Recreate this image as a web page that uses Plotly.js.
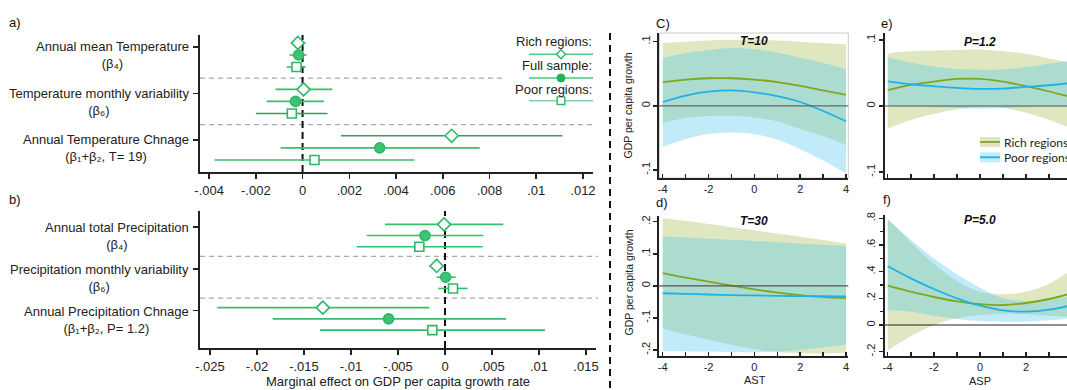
<!DOCTYPE html>
<html><head><meta charset="utf-8">
<script src="https://cdn.plot.ly/plotly-3.0.1.min.js"></script>
<style>html,body{margin:0;padding:0;overflow:hidden;background:#fff;width:1067px;height:390px}</style>
</head><body><div id="chart" style="width:1080px;height:390px"></div>
<script>
// ---------------- Panel a: temperature marginal effects ----------------
const aLabels = ['Annual mean Temperature<br>(β₄)', 'Temperature monthly variability<br>(β₆)', 'Annual Temperature Chnage<br>(β₁+β₂, T= 19)'];
const aRich   = [-0.0002, 0.00004, 0.00638];
const aRichLo = [-0.0005, -0.00116, 0.00164];
const aRichHi = [0.00013, 0.00127, 0.01112];
const aFull   = [-0.00017, -0.0003, 0.0033];
const aFullLo = [-0.00056, -0.00154, -0.00094];
const aFullHi = [0.00017, 0.00091, 0.00758];
const aPoor   = [-0.00026, -0.00046, 0.00051];
const aPoorLo = [-0.00068, -0.002, -0.00377];
const aPoorHi = [0.00013, 0.00107, 0.00478];
const aTickVals = [-0.004, -0.002, 0, 0.002, 0.004, 0.006, 0.008, 0.01, 0.012];
const aTickText = ['-.004', '-.002', '0', '.002', '.004', '.006', '.008', '.01', '.012'];

// ---------------- Panel b: precipitation marginal effects ----------------
const bLabels = ['Annual total Precipitation<br>(β₄)', 'Precipitation monthly variability<br>(β₆)', 'Annual Precipitation Chnage<br>(β₁+β₂, P= 1.2)'];
const bRich   = [-0.0001, -0.00089, -0.013];
const bRichLo = [-0.00638, -0.00167, -0.02422];
const bRichHi = [0.0062, -0.0001, -0.00167];
const bFull   = [-0.00213, 0.00007, -0.006];
const bFullLo = [-0.00833, -0.00089, -0.01833];
const bFullHi = [0.00408, 0.00113, 0.0065];
const bPoor   = [-0.00273, 0.00085, -0.00135];
const bPoorLo = [-0.0094, -0.00071, -0.0133];
const bPoorHi = [0.004, 0.0024, 0.01064];
const bTickVals = [-0.025, -0.02, -0.015, -0.01, -0.005, 0, 0.005, 0.01, 0.015];
const bTickText = ['-.025', '-.02', '-.015', '-.01', '-.005', '0', '.005', '.01', '.015'];

// ---------------- Right panels: curves over AST / ASP ----------------
const xs = [-4, -3, -2, -1, 0, 1, 2, 3, 4];
const xTickText = ['-4', '', '-2', '', '0', '', '2', '', '4'];
// C) T=10
const cRich   = [0.037, 0.041, 0.043, 0.043, 0.041, 0.037, 0.031, 0.024, 0.017];
const cRichLo = [-0.026, -0.019, -0.016, -0.0155, -0.018, -0.024, -0.036, -0.047, -0.061];
const cRichHi = [0.098, 0.100, 0.102, 0.103, 0.103, 0.102, 0.100, 0.098, 0.096];
const cPoor   = [0.006, 0.016, 0.022, 0.024, 0.021, 0.015, 0.006, -0.008, -0.024];
const cPoorLo = [-0.064, -0.052, -0.044, -0.0415, -0.044, -0.053, -0.0675, -0.085, -0.105];
const cPoorHi = [0.075, 0.082, 0.0866, 0.090, 0.088, 0.083, 0.075, 0.067, 0.057];
// d) T=30
const dRich   = [0.040, 0.026, 0.013, 0.001, -0.011, -0.021, -0.029, -0.035, -0.038];
const dRichLo = [-0.133, -0.152, -0.168, -0.184, -0.197, -0.206, -0.21, -0.211, -0.208];
const dRichHi = [0.211, 0.203, 0.193, 0.183, 0.173, 0.163, 0.153, 0.143, 0.132];
const dPoor   = [-0.023, -0.025, -0.027, -0.029, -0.030, -0.031, -0.032, -0.032, -0.033];
const dPoorLo = [-0.203, -0.204, -0.205, -0.206, -0.207, -0.205, -0.2, -0.192, -0.183];
const dPoorHi = [0.154, 0.151, 0.147, 0.144, 0.140, 0.136, 0.132, 0.128, 0.125];
// e) P=1.2
const eRich   = [0.024, 0.032, 0.037, 0.041, 0.041, 0.037, 0.030, 0.022, 0.013];
const eRichLo = [-0.034, -0.021, -0.012, -0.005, -0.001, -0.003, -0.010, -0.021, -0.034];
const eRichHi = [0.080, 0.083, 0.084, 0.085, 0.0855, 0.083, 0.079, 0.072, 0.065];
const ePoor   = [0.0375, 0.033, 0.030, 0.0275, 0.026, 0.0265, 0.029, 0.0315, 0.035];
const ePoorLo = [0.0, -0.001, -0.002, -0.003, -0.004, -0.003, -0.002, -0.001, 0.0];
const ePoorHi = [0.074, 0.066, 0.060, 0.056, 0.055, 0.0555, 0.059, 0.064, 0.069];
// f) P=5.0
const fRich   = [0.295, 0.25, 0.21, 0.178, 0.157, 0.15, 0.165, 0.195, 0.24];
const fRichLo = [-0.19, -0.085, 0.0, 0.05, 0.075, 0.085, 0.08, 0.07, 0.06];
const fRichHi = [0.80, 0.62, 0.46, 0.33, 0.25, 0.23, 0.25, 0.31, 0.42];
const fPoor   = [0.44, 0.35, 0.27, 0.20, 0.145, 0.11, 0.10, 0.115, 0.15];
const fPoorLo = [0.11, 0.10, 0.07, 0.045, 0.03, 0.025, 0.025, 0.035, 0.05];
const fPoorHi = [0.79, 0.64, 0.50, 0.38, 0.28, 0.20, 0.18, 0.19, 0.22];

const cdTickVals = [-0.1, 0, 0.1];      const cdTickText = ['-.1', '0', '.1'];
const dTickVals = [-0.2, -0.1, 0, 0.1, 0.2]; const dTickText = ['-.2', '-.1', '0', '.1', '.2'];
const fTickVals = [-0.2, 0, 0.2, 0.4, 0.6, 0.8]; const fTickText = ['-.2', '0', '.2', '.4', '.6', '.8'];

// ---------------- styles ----------------
const W = 1080, H = 390;
const px = x => x / W, py = y => 1 - y / H;
const FONT = 'Liberation Sans, Arial, Helvetica, sans-serif';
const G = '#34bf6b', GD = '#3c9964', MK = '#2db865', MKF = '#3fc276';
const RICH_LINE = '#80a61c', POOR_LINE = '#1eb2e8';
const RICH_BAND = 'rgb(223,231,193)', POOR_BAND = 'rgba(70,195,240,0.33)';
const groupPos = [3, 2, 1];

const aBarCol = {rich: [G, G, GD], full: [G, G, G], poor: [G, GD, G]};
const bBarCol = {rich: [G, G, G], full: [G, G, G], poor: [G, G, G]};

function forest(xa, ya, vals, barCol, off) {
  const sets = [
    {v: vals[0], lo: vals[1], hi: vals[2], dy: 1, sym: 'diamond', size: 10, fill: '#fff', bc: barCol.rich},
    {v: vals[3], lo: vals[4], hi: vals[5], dy: 0, sym: 'circle', size: 10, fill: MKF, bc: barCol.full},
    {v: vals[6], lo: vals[7], hi: vals[8], dy: -1, sym: 'square', size: 9, fill: '#fff', bc: barCol.poor}
  ];
  const out = [];
  sets.forEach(s => {
    const yy = groupPos.map(g => g + s.dy * off);
    s.v.forEach((v, i) => out.push({type: 'scatter', mode: 'lines', xaxis: xa, yaxis: ya,
      x: [s.lo[i], s.hi[i]], y: [yy[i], yy[i]], line: {color: s.bc[i], width: 1.6},
      hoverinfo: 'skip', showlegend: false}));
  });
  sets.forEach(s => {
    const yy = groupPos.map(g => g + s.dy * off);
    out.push({type: 'scatter', mode: 'markers', xaxis: xa, yaxis: ya, x: s.v, y: yy,
      marker: {symbol: s.sym, size: s.size, color: s.fill, line: {color: MK, width: 1.6}},
      showlegend: false});
  });
  return out;
}

function curvePanel(xa, ya, rich, richLo, richHi, poor, poorLo, poorHi) {
  const base = {type: 'scatter', mode: 'lines', xaxis: xa, yaxis: ya, x: xs, hoverinfo: 'skip', showlegend: false};
  return [
    Object.assign({}, base, {y: richLo, line: {width: 0, shape: 'spline'}}),
    Object.assign({}, base, {y: richHi, line: {width: 0, shape: 'spline'}, fill: 'tonexty', fillcolor: RICH_BAND}),
    Object.assign({}, base, {y: poorLo, line: {width: 0, shape: 'spline'}}),
    Object.assign({}, base, {y: poorHi, line: {width: 0, shape: 'spline'}, fill: 'tonexty', fillcolor: POOR_BAND}),
    Object.assign({}, base, {y: rich, line: {width: 1.8, color: RICH_LINE, shape: 'spline'}}),
    Object.assign({}, base, {y: poor, line: {width: 1.8, color: POOR_LINE, shape: 'spline'}})
  ];
}

const traces = [].concat(
  forest('x', 'y', [aRich, aRichLo, aRichHi, aFull, aFullLo, aFullHi, aPoor, aPoorLo, aPoorHi], aBarCol, 0.26),
  forest('x2', 'y2', [bRich, bRichLo, bRichHi, bFull, bFullLo, bFullHi, bPoor, bPoorLo, bPoorHi], bBarCol, 0.27),
  curvePanel('x3', 'y3', cRich, cRichLo, cRichHi, cPoor, cPoorLo, cPoorHi),
  curvePanel('x4', 'y4', dRich, dRichLo, dRichHi, dPoor, dPoorLo, dPoorHi),
  curvePanel('x5', 'y5', eRich, eRichLo, eRichHi, ePoor, ePoorLo, ePoorHi),
  curvePanel('x6', 'y6', fRich, fRichLo, fRichHi, fPoor, fPoorLo, fPoorHi)
);

const tickFont = {family: FONT, size: 13, color: '#222'};
const smallFont = {family: FONT, size: 11, color: '#222'};
function forestX(dom, anchor, range, tv, tt) {
  return {domain: dom, anchor, range, tickmode: 'array', tickvals: tv, ticktext: tt,
    ticks: 'outside', ticklen: 5, tickwidth: 1.5, tickcolor: '#222', showline: true, linecolor: '#222',
    linewidth: 2, showgrid: false, zeroline: false, tickfont: tickFont, fixedrange: true};
}
function forestY(dom, anchor, range, tickOff) {
  return {domain: dom, anchor, range, tickmode: 'array', tickvals: groupPos.map(g => g + tickOff),
    showticklabels: false, ticks: 'outside', ticklen: 5, tickwidth: 1.5, tickcolor: '#222',
    showline: true, linecolor: '#222', linewidth: 2, showgrid: false, zeroline: false, fixedrange: true};
}
function curveX(dom, anchor, range, labels) {
  return {domain: dom, anchor, range, tickmode: 'array', tickvals: xs, ticktext: xTickText,
    showticklabels: labels, ticks: 'inside', ticklen: 4, tickwidth: 1.5, tickcolor: '#222',
    ticklabelstandoff: 0,
    showline: true, linecolor: '#222', linewidth: 2, showgrid: false, zeroline: false,
    tickfont: smallFont, fixedrange: true};
}
function curveY(dom, anchor, range, tv, tt, minor) {
  const ax = {domain: dom, anchor, range, tickmode: 'array', tickvals: tv, ticktext: tt, tickangle: -90,
    ticks: 'outside', ticklen: 4, tickwidth: 1.5, tickcolor: '#222', showline: true, linecolor: '#222',
    ticklabelstandoff: -1,
    linewidth: 2, showgrid: false, zeroline: false, tickfont: smallFont, fixedrange: true};
  if (minor) ax.minor = {dtick: 0.1, tick0: 0, ticks: 'outside', ticklen: 3, tickwidth: 1.2, tickcolor: '#222', showgrid: false};
  return ax;
}

const shapes = [];
const annotations = [];
function hdash(yref, yv, x0, x1) {
  shapes.push({type: 'line', xref: 'paper', yref, x0: px(x0), x1: px(x1), y0: yv, y1: yv,
    line: {color: '#aaaaaa', width: 1.3, dash: '5px,4px'}, layer: 'below'});
}
// panel a/b separators and zero lines
hdash('y', 2.5, 200, 503); hdash('y', 1.5, 200, 593);
hdash('y2', 2.5, 200, 598); hdash('y2', 1.5, 200, 598);
['x', 'x2'].forEach((xr, i) => shapes.push({type: 'line', xref: xr, yref: (i ? 'y2' : 'y') + ' domain',
  x0: 0, x1: 0, y0: 0, y1: 1, line: {color: '#111', width: 2, dash: '7px,4px'}, layer: 'below'}));
// big vertical separator
shapes.push({type: 'line', xref: 'paper', yref: 'paper', x0: px(610), x1: px(610), y0: py(33), y1: 0,
  line: {color: '#111', width: 2, dash: '7px,5px'}});
// zero lines in curve panels
[['x3', 'y3', '#666'], ['x4', 'y4', '#555'], ['x5', 'y5', '#555'], ['x6', 'y6', '#222']].forEach(([xr, yr, c]) =>
  shapes.push({type: 'line', xref: xr + ' domain', yref: yr, x0: 0, x1: 1, y0: 0, y1: 0, line: {color: c, width: 1.1}}));
// light frame on C
shapes.push({type: 'rect', xref: 'x3 domain', yref: 'y3 domain', x0: 0, x1: 1, y0: 0, y1: 1,
  line: {color: '#cccccc', width: 1}, layer: 'below'});

// category labels
function catLabels(yref, labels, tickOff, lineShift) {
  labels.forEach((t, i) => annotations.push({xref: 'paper', yref, x: px(191), y: groupPos[i] + tickOff,
    xanchor: 'right', yanchor: 'top', yshift: lineShift, align: 'center', text: t, showarrow: false,
    font: tickFont}));
}
catLabels('y', aLabels, 0.17, 10);
catLabels('y2', bLabels, 0.2, 9);

// panel a legend (custom, drawn as in the original)
const legA = [
  {txt: 'Rich regions:', ty: 41.7, ly: 54.3, lc: '#55cc88', mk: 'diamond'},
  {txt: 'Full sample:', ty: 65.7, ly: 78, lc: '#4cc680', mk: 'circle'},
  {txt: 'Poor regions:', ty: 89.5, ly: 100.7, lc: '#86cfa2', mk: 'square'}
];
legA.forEach(l => {
  annotations.push({xref: 'paper', yref: 'paper', x: px(594), y: py(l.ty), xanchor: 'right', yanchor: 'middle',
    text: l.txt, showarrow: false, font: tickFont});
  shapes.push({type: 'line', xref: 'paper', yref: 'paper', x0: px(529), x1: px(593), y0: py(l.ly), y1: py(l.ly),
    line: {color: l.lc, width: 1.6}});
  const common = {xref: 'paper', yref: 'paper', xsizemode: 'pixel', ysizemode: 'pixel', xanchor: px(561), yanchor: py(l.ly)};
  if (l.mk === 'diamond') shapes.push(Object.assign({type: 'path', path: 'M -4.5 0 L 0 4.5 L 4.5 0 L 0 -4.5 Z',
    fillcolor: '#fff', line: {color: MK, width: 1.4}}, common));
  if (l.mk === 'circle') shapes.push(Object.assign({type: 'circle', x0: -4, x1: 4, y0: -4, y1: 4,
    fillcolor: '#22b357', line: {color: '#22b357', width: 1}}, common));
  if (l.mk === 'square') shapes.push(Object.assign({type: 'rect', x0: -3.8, x1: 3.8, y0: -3.8, y1: 3.8,
    fillcolor: '#fff', line: {color: MK, width: 1.4}}, common));
});

// panel e legend
[[142, 'rgb(223,231,193)', RICH_LINE, 'Rich regions'], [157.3, 'rgb(196,236,250)', POOR_LINE, 'Poor regions']].forEach(([y, f, c, t]) => {
  shapes.push({type: 'rect', xref: 'paper', yref: 'paper', x0: px(980), x1: px(1000), y0: py(y + 5), y1: py(y - 5),
    fillcolor: f, line: {width: 0}});
  shapes.push({type: 'line', xref: 'paper', yref: 'paper', x0: px(980), x1: px(1000), y0: py(y), y1: py(y),
    line: {color: c, width: 1.8}});
  annotations.push({xref: 'paper', yref: 'paper', x: px(1002), y: py(y), xanchor: 'left', yanchor: 'middle',
    text: t, showarrow: false, font: {family: 'Lato, Liberation Sans, sans-serif', size: 12, color: '#222'}});
});

// panel letters, titles, axis titles
[['a)', 15, 22], ['b)', 15, 200], ['C)', 663, 23], ['d)', 662, 202], ['e)', 887, 23], ['f)', 887, 200]].forEach(([t, x, y]) =>
  annotations.push({xref: 'paper', yref: 'paper', x: px(x), y: py(y), xanchor: 'center', yanchor: 'middle',
    text: t, showarrow: false, font: {family: FONT, size: 13, color: '#111'}}));
[['x3', 'y3', 'T=10', 0.945], ['x4', 'y4', 'T=30', 0.965], ['x5', 'y5', 'P=1.2', 0.94], ['x6', 'y6', 'P=5.0', 0.962]].forEach(([xr, yr, t, yy]) =>
  annotations.push({xref: xr, yref: yr + ' domain', x: 0, y: yy, xanchor: 'center', yanchor: 'middle',
    text: '<b><i>' + t + '</i></b>', showarrow: false, font: {family: FONT, size: 12, color: '#111'}}));
[[105.5], [282.5]].forEach(([y]) => annotations.push({xref: 'paper', yref: 'paper', x: px(628), y: py(y),
  textangle: -90, xanchor: 'center', yanchor: 'middle', text: 'GDP per capita growth', showarrow: false,
  font: {family: FONT, size: 10.5, color: '#222'}}));
annotations.push({xref: 'paper', yref: 'paper', x: px(755), y: py(380), xanchor: 'center', yanchor: 'middle',
  text: 'AST', showarrow: false, font: {family: FONT, size: 11, color: '#222'}});
annotations.push({xref: 'paper', yref: 'paper', x: px(980), y: py(381), xanchor: 'center', yanchor: 'middle',
  text: 'ASP', showarrow: false, font: {family: FONT, size: 11, color: '#222'}});
annotations.push({xref: 'paper', yref: 'paper', x: px(398), y: py(381), xanchor: 'center', yanchor: 'middle',
  text: 'Marginal effect on GDP per capita growth rate', showarrow: false, font: tickFont});

const layout = {
  width: W, height: H, margin: {l: 0, r: 0, t: 0, b: 0}, paper_bgcolor: '#fff', plot_bgcolor: 'rgba(0,0,0,0)',
  showlegend: false, font: {family: FONT},
  xaxis: forestX([px(200), px(593)], 'y', [-0.00439, 0.01243], aTickVals, aTickText),
  yaxis: forestY([py(172), py(35)], 'x', [0.48, 3.43], 0.17),
  xaxis2: forestX([px(200), px(596)], 'y2', [-0.02606, 0.01606], bTickVals, bTickText),
  yaxis2: forestY([py(348), py(211)], 'x2', [0.30, 3.59], 0.2),
  xaxis3: curveX([px(659.3), px(848.3)], 'y3', [-4.15, 4.1], true),
  yaxis3: curveY([py(178), py(33)], 'x3', [-0.1124, 0.1135], cdTickVals, cdTickText, false),
  xaxis4: curveX([px(659.3), px(848.3)], 'y4', [-4.15, 4.1], true),
  yaxis4: curveY([py(356), py(215.7)], 'x4', [-0.2187, 0.2187], dTickVals, dTickText, false),
  xaxis5: curveX([px(884.5), px(1074.6)], 'y5', [-4.14, 4.1], false),
  yaxis5: curveY([py(178), py(33)], 'x5', [-0.109, 0.1106], cdTickVals, cdTickText, false),
  xaxis6: curveX([px(884.5), px(1074.6)], 'y6', [-4.14, 4.1], true),
  yaxis6: curveY([py(356), py(215)], 'x6', [-0.2325, 0.825], fTickVals, fTickText, true),
  shapes, annotations
};
Plotly.newPlot('chart', traces, layout, {displayModeBar: false, staticPlot: true});
</script></body></html>
